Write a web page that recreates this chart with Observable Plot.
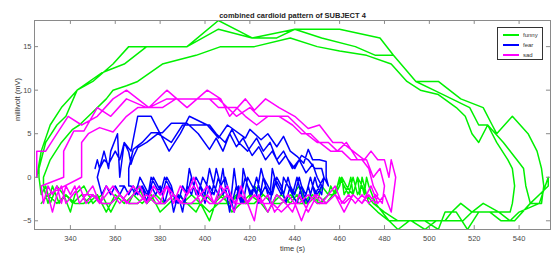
<!DOCTYPE html>
<html><head><meta charset="utf-8">
<script src="https://cdn.jsdelivr.net/npm/d3@7"></script>
<script src="https://cdn.jsdelivr.net/npm/@observablehq/plot@0.6"></script>
<style>
body{margin:0;background:#fff;font-family:"Liberation Sans",Arial,sans-serif}
#wrap{position:relative;width:555px;height:254px}
#legend{position:absolute;left:497px;top:27px;width:46px;height:33px;box-sizing:border-box;border:1px solid #333;background:#fff}
.item{position:absolute;left:5px;height:8px;width:40px;font-size:6px;color:#333;line-height:8px}
.sw{position:absolute;left:0;top:3px;width:16px;height:2px}
.lb{position:absolute;left:20px;top:0}
</style></head><body><div id="wrap"></div>
<script>
const emotions = ["funny", "fear", "sad"];
const colors = ["#00f000", "#0000ff", "#ff00ff"];
const xTicks = [340, 360, 380, 400, 420, 440, 460, 480, 500, 520, 540];
const yTicks = [-5, 0, 5, 10, 15];

const funny = [
[325,0],[327,3],[331,6],[336,8],[343,10],[354,12],[364,13],[374,15],[392,15],[406,18],[421,16],[440,17],[460,17],[478,16],[484,14],[494,11],[504,11],[514,9],[524,8],[528,6],[530,5],[537,7],[544,5],[548,3],[550,1],[551,-1],[550,-3],[545,-3],[538,-5],[532,-5],[527,-4],[522,-4],[517,-6],[512,-4],[507,-4],[504,-6],[498,-5],[491,-5],[486,-6],[482,-5],[477,-4],[473,-3],
[471,-1],[470,0],[469,-2],[468,0],[467,-1],[466,-2],[465,0],[464,-1],[462,-2],[461,0],[460,-1],[458,-2],[456,-1],[455,-2],[452,-1],[450,-3],[447,-2],[444,-3],[441,-2],[438,-3],[434,-2],[430,-3],[426,-2],[422,-1],[419,-3],[415,-2],[411,-3],[406,-2],[402,-5],[398,-3],[394,-2],[390,-3],[386,-2],[382,-3],[378,-2],[374,-3],[370,-1],[366,-3],[362,-2],[358,-4],[354,-2],[350,-3],[346,-1],[342,-2],[340,-4],[337,-2],[334,-1],[331,-3],[329,-1],[327,-2],[326,0],
[326,1],[329,4],[334,6],[338,7],[343,10],[350,11],[359,13],[366,15],[374,15],[392,15],[406,17],[421,16],[432,16],[440,17],[452,16],[467,15],[476,14],[484,14],[494,11],[502,10],[510,9],[518,8],[522,6],[526,6],[533,4],[539,2],[542,1],[543,-1],[545,-3],[549,-2],[553,-1],[553,0],[549,-3],[540,-4],[536,-5],[531,-4],[525,-4],[519,-4],[514,-3],[510,-4],[507,-5],[500,-5],[494,-5],[488,-5],[482,-5],[476,-3],
[473,-1],[472,0],[471,-2],[470,-1],[468,-2],[466,0],[464,-2],[462,-1],[460,0],[458,-2],[455,-2],[451,-3],[448,-2],[445,-3],[442,-1],[439,-2],[436,-3],[432,-2],[428,-4],[425,-3],[420,-2],[416,-3],[412,-4],[408,-2],[404,-3],[400,-2],[396,-4],[392,-3],[388,-2],[384,-3],[380,-4],[376,-2],[372,-3],[368,-2],[364,-3],[360,-2],[356,-4],[352,-2],[348,-3],[345,-2],[341,-3],[338,-2],[335,-3],[332,-1],[330,-3],[328,-1],
[328,0],[331,2],[336,4],[341,5.5],[344,6],[350,7.5],[356,9],[359,10],[365,10.5],[370,11],[381,13],[396,14],[407,15],[422,15],[438,16],[450,15],[460,14.5],[472,14],[483,13],[490,11],[496,10],[504,9.5],[512,8],[516,7],[519,5],[522,4],[526,6],[530,4],[535,2],[537,1],[538,-1],[537,-3],[536,-4],[531,-4],[524,-3],[519,-4],[515,-5],[509,-5],[503,-5],[498,-6],[492,-5],[486,-5],[480,-4],[475,-3],[472,-2],
[470,-1],[468,0],[466,-2],[463,-1],[461,0],[459,-1],[457,-2],[454,-3],[450,-2],[446,-3],[442,-3],[438,-2],[434,-3],[430,-3],[426,-2],[422,-3],[418,-3],[414,-2],[410,-3],[406,-3],[402,-4],[398,-3],[394,-3],[390,-3],[386,-2],[382,-3],[378,-3],[374,-2],[370,-3],[366,-3],[362,-2],[358,-3],[354,-3],[350,-2],[346,-3],[342,-3],[338,-2],[334,-3],[330,-2],[327,-3]
];

const fear = [
[351,1],[352,2],[353,1],[355,3],[357,1],[358,3],[361,5],[362,0],[364,4],[367,3],[370,7],[376,7],[384,3],[389,5],[393,7],[401,6],[406,4.5],[410,6],[418,4.5],[420,5.5],[425,4.3],[428,5],[432,3.5],[435,4.7],[438,3],[441,2.4],[444,1.6],[446,3.2],[448,2],[451,2],[454,1.8],[454,0],[455,-1],
[453,0],[452,-2],[450,-1],[449,0],[447,-2],[446,-1],[444,-3],[442,-1],[441,0],[439,-2],[437,-1],[435,0],[434,-2],[432,-1],[430,1],[429,-2],[427,-1],[425,-2],[423,0],[421,-2],[419,-1],[417,1],[416,-3],[414,-1],[413,1],[411,-4],[409,-1],[408,1],[406,-2],[404,-1],[402,1],[400,-2],[398,-1],[396,0],[394,-2],[392,-1],[390,-4],[388,-2],[386,-4],[384,-1],[382,0],[380,-2],[378,-1],[376,0],[374,-3],[372,-1],[370,-2],[368,-1],[366,-2],[364,-1],[362,-2],[360,-1],[358,-2],[356,-1],[354,-2],[352,0],
[353,1],[355,2],[357,1.5],[360,3],[362,2],[364,4],[366,2.9],[367,1.5],[368,2.3],[370,3.4],[374,4],[379,5],[385,4],[390,6],[396,6],[402,6],[405,5],[409,4],[412,5.5],[415,4],[419,3],[423,4.5],[426,3],[429,4],[432,2],[435,3],[437,2],[440,1],[443,2.5],[446,2],[449,1],[452,1],[453,0],
[451,-1],[449,-2],[447,0],[445,-2],[443,-1],[441,-3],[439,-2],[437,0],[435,-2],[433,-1],[431,0],[429,-3],[427,-1],[425,1],[423,-2],[421,-1],[419,0],[417,-3],[415,-1],[413,-4],[411,-2],[409,0],[407,-1],[405,1],[403,-2],[401,-1],[399,0],[397,-2],[395,-1],[393,1],[391,-3],[389,-2],[387,-3],[385,-1],[383,0],[381,-2],[379,-1],[377,0],[375,-2],[373,-1],[371,0],[369,-2],[367,-1],
[366,-1],[366,1],[368,3.2],[372,4],[376,5.1],[381,5.1],[385,6.2],[392,6.2],[397,5],[402,3.2],[405,4.5],[408,3],[411,5],[414,3.5],[417,4.5],[421,2.5],[424,3.5],[427,2],[430,3],[433,1.5],[436,2.5],[439,1],[442,2],[445,0.5],[448,1.5],[450,0],[452,-1],
[450,-2],[448,-1],[446,-3],[444,-2],[442,0],[440,-2],[438,-1],[436,-3],[434,-1],[432,0],[430,-2],[428,-1],[426,0],[424,-3],[422,-1],[420,-2],[418,0],[416,-2],[414,-1],[412,-3],[410,-1],[408,-2],[406,0],[404,-2],[402,-1],[400,-3],[398,-1],[396,-2],[394,0],[392,-2],[390,-1],[388,-3],[386,-2],[384,-1],[382,-3],[380,-1],[378,-2],[376,-1],[374,-2],[372,-1],[370,-2],[368,-1],[366,-2],[364,-1],[362,-1]
];

const sad = [
[325,0],[325,3],[329,3],[334,5],[339,7],[345,6],[352,7],[359,9],[365,10],[375,8],[383,10],[392,8],[401,10],[407,9],[411,7],[418,9],[422,7.7],[427,9],[433,8],[440,7],[446,5.6],[451,6],[457,4],[461,4],[466,3],[471,2],[474,3],[477,2],[480,2],[482,0],[483,2],[485,0],[484,-2],[483,-4],
[480,-2],[477,-3],[474,-1],[472,-2],[470,-3],[466,-2],[462,-4],[458,-2],[454,-3],[450,-2],[446,-4],[442,-2],[439,-4],[436,-3],[432,-2],[428,-4],[424,-2],[422,-5],[419,-3],[416,-1],[413,-4],[410,-2],[407,-1],[404,-3],[401,-1],[398,-2],[395,0],[392,-2],[389,-1],[386,-3],[383,-1],[380,-2],[377,-1],[374,-3],[371,-2],[368,-1],[365,-2],[362,-3],[359,-2],[356,-1],[353,-3],[350,-1],[347,-2],[344,-3],[342,-1],[340,-2],[338,-1],[336,-3],[334,-1],[332,-2],[330,-1],[328,-3],[327,-1],
[337,0],[337,3],[341.5,5.3],[346,5.3],[352,8],[358,7],[365,9],[374,8],[381,8],[387,9],[395,9],[402,9],[406,8],[410,8],[414,7],[420,8],[424,7],[430,7],[437,7],[441,6],[445,5],[450,4],[455,4],[459,3],[463,4],[468,2],[472,2],[475,0],[478,1],[480,-1],[479,-3],
[476,-2],[473,-3],[470,-2],[467,-3],[464,-2],[461,-3],[458,-1],[455,-2],[452,-3],[449,-2],[446,-3],[443,-5],[440,-3],[437,-2],[434,-3],[431,-4],[428,-2],[425,-3],[422,-2],[419,-3],[416,-2],[413,-3],[410,-1],[407,-2],[404,-3],[401,-2],[398,-3],[395,-1],[392,-2],[389,-3],[386,-2],[383,-1],[380,-3],[377,-2],[374,-3],[371,-1],[368,-2],[365,-3],[362,-2],[359,-1],[356,-2],[353,-3],[350,-2],[347,-3],[344,-1],[341,-2],[338,-3],[336,-1],[334,-2],[332,-4],[330,-2],
[345,0],[345,1],[345,4],[348,5],[353,5.7],[359,5.2],[365,7],[370,8],[375,8],[383,9],[392,9],[400,9],[406,9],[410,8],[414,8],[418,7],[423,6],[428,7],[433,7],[439,6],[443,5],[447,5],[451,4],[456,3],[461,3],[465,2],[470,2],[473,1],[475,-1],[477,-2],[476,-3],
[473,-2],[470,-3],[466,-2],[462,-3],[458,-2],[454,-3],[450,-3],[446,-2],[442,-3],[438,-3],[434,-4],[430,-3],[426,-3],[422,-2],[418,-3],[414,-3],[410,-2],[406,-3],[402,-3],[398,-2],[394,-3],[390,-3],[386,-2],[382,-3],[378,-3],[374,-2],[370,-3],[366,-3],[362,-2],[358,-3],[354,-3],[350,-2],[346,-2]
];

const rows = [];
[funny, fear, sad].forEach((arr, i) => arr.forEach(([t, v]) => rows.push({t, v, emotion: emotions[i]})));

const axisColor = "#8a8a8a";
const chart = Plot.plot({
  width: 555, height: 254,
  marginTop: 20, marginLeft: 34, marginRight: 5, marginBottom: 25,
  x: {domain: [324, 554]},
  y: {domain: [-6, 18]},
  color: {domain: emotions, range: colors},
  style: {fontFamily: "'Liberation Sans', Arial, sans-serif", fontSize: "7.5px", background: "#fff"},
  marks: [
    Plot.line(rows, {x: "t", y: "v", z: "emotion", stroke: "emotion", strokeWidth: 1.5, clip: true}),
    Plot.frame({stroke: axisColor}),
    Plot.ruleX(xTicks, {x: d => d, y1: -6, y2: -5.55, stroke: axisColor}),
    Plot.ruleX(xTicks, {x: d => d, y1: 18, y2: 17.55, stroke: axisColor}),
    Plot.ruleY(yTicks, {y: d => d, x1: 324, x2: 325.8, stroke: axisColor}),
    Plot.ruleY(yTicks, {y: d => d, x1: 554, x2: 552.2, stroke: axisColor}),
    Plot.axisX(xTicks, {tickSize: 0, tickPadding: 6, label: null, color: "#4a4a4a"}),
    Plot.axisY(yTicks, {tickSize: 0, tickPadding: 3, label: null, color: "#4a4a4a"}),
    Plot.text(["combined cardioid pattern of SUBJECT 4"], {frameAnchor: "top", dy: -8, text: d => d, fontWeight: "bold", fill: "#222"}),
    Plot.text(["time (s)"], {frameAnchor: "bottom", dy: 21, text: d => d, fill: "#333"}),
    Plot.text(["millivolt (mV)"], {frameAnchor: "left", dx: -17, dy: -4, rotate: -90, text: d => d, fill: "#333"})
  ]
});
const wrap = document.getElementById("wrap");
wrap.appendChild(chart);

const legend = document.createElement("div");
legend.id = "legend";
emotions.forEach((e, i) => {
  const it = document.createElement("div");
  it.className = "item";
  it.style.top = (3 + i * 10) + "px";
  const sw = document.createElement("div");
  sw.className = "sw";
  sw.style.background = colors[i];
  const lb = document.createElement("span");
  lb.className = "lb";
  lb.textContent = e;
  it.appendChild(sw); it.appendChild(lb);
  legend.appendChild(it);
});
wrap.appendChild(legend);
</script>
</body></html>
